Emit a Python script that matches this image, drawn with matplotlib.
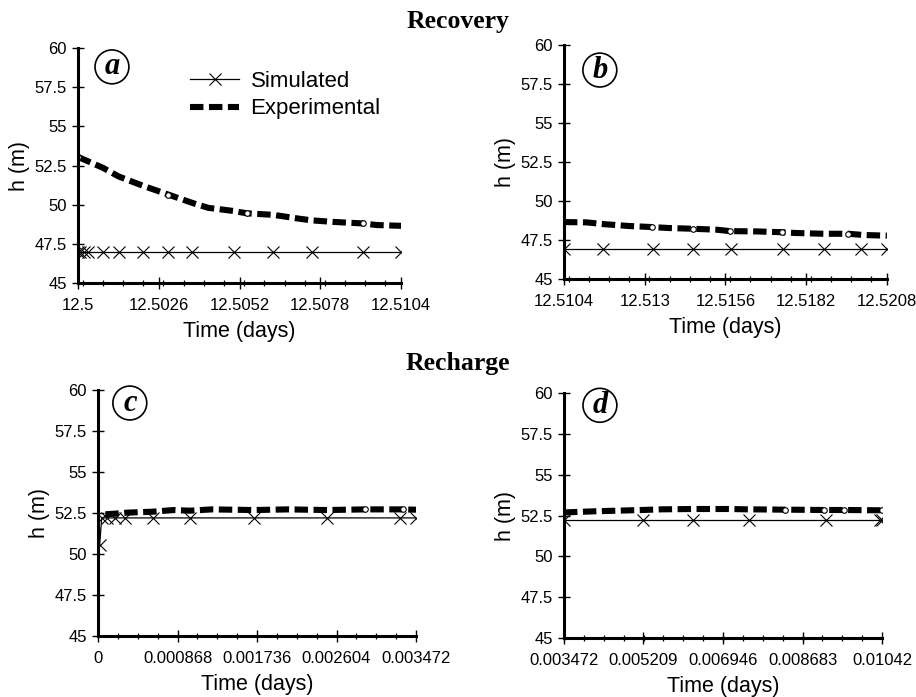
"""Drawdown recovery and recharge: simulated vs experimental head h(t)."""

import matplotlib.pyplot as plt
from matplotlib.ticker import FixedLocator, MultipleLocator

plt.rcParams["font.family"] = ["Liberation Sans", "DejaVu Sans"]

h_ticks = [45, 47.5, 50, 52.5, 55, 57.5, 60]
h_labels = ["45", "47.5", "50", "52.5", "55", "57.5", "60"]

# ---- (a) recovery, first window ----
a_exp_t = [12.5, 12.500806, 12.50131, 12.5021, 12.5029, 12.5037, 12.50419, 12.5050,
           12.50543, 12.50629, 12.50714, 12.50752, 12.50822, 12.50919, 12.50962, 12.5104]
a_exp_h = [53.05, 52.35, 51.8, 51.2, 50.65, 50.1, 49.8, 49.6,
           49.45, 49.35, 49.1, 49.0, 48.9, 48.8, 48.7, 48.65]
a_sim_t = [12.5, 12.50005, 12.50018, 12.50032, 12.5008, 12.50131, 12.5021, 12.5029,
           12.50368, 12.50502, 12.50629, 12.50752, 12.50919, 12.5104]
a_sim_h = [46.95] * len(a_sim_t)
a_ticks = [12.5, 12.5026, 12.5052, 12.5078, 12.5104]
a_labels = ["12.5", "12.5026", "12.5052", "12.5078", "12.5104"]

# ---- (b) recovery, second window ----
b_exp_t = [12.5104, 12.51113, 12.51167, 12.51247, 12.51323, 12.51376, 12.51457, 12.51532,
           12.51575, 12.51661, 12.51742, 12.51785, 12.51876, 12.51956, 12.52005, 12.5208]
b_exp_h = [48.65, 48.63, 48.52, 48.4, 48.33, 48.27, 48.22, 48.16,
           48.07, 48.05, 48.0, 47.95, 47.9, 47.9, 47.82, 47.78]
b_sim_t = [12.5104, 12.51167, 12.51326, 12.51457, 12.51577, 12.51745, 12.51876, 12.51996, 12.5208]
b_sim_h = [46.9] * len(b_sim_t)
b_ticks = [12.5104, 12.513, 12.5156, 12.5182, 12.5208]
b_labels = ["12.5104", "12.513", "12.5156", "12.5182", "12.5208"]

# ---- (c) recharge, first window ----
c_exp_t = [0.00008, 0.000189, 0.000316, 0.0006, 0.000825, 0.001, 0.00124,
           0.0017, 0.00208, 0.0025, 0.00292, 0.00333, 0.003472]
c_exp_h = [52.42, 52.46, 52.52, 52.58, 52.68, 52.64, 52.72,
           52.68, 52.72, 52.68, 52.72, 52.72, 52.7]
c_sim_t = [0.000018, 0.00004, 0.0001, 0.000189, 0.0003, 0.0006, 0.001,
           0.0017, 0.0025, 0.0033, 0.003472]
c_sim_h = [50.55, 52.2, 52.2, 52.2, 52.2, 52.2, 52.2, 52.2, 52.2, 52.2, 52.2]
c_ticks = [0, 0.000868, 0.001736, 0.002604, 0.003472]
c_labels = ["0", "0.000868", "0.001736", "0.002604", "0.003472"]

# ---- (d) recharge, second window ----
d_exp_t = [0.003472, 0.00415, 0.005188, 0.005611, 0.006301, 0.007066,
           0.007467, 0.008306, 0.009144, 0.009582, 0.01042]
d_exp_h = [52.69, 52.76, 52.84, 52.88, 52.9, 52.9,
           52.88, 52.86, 52.84, 52.84, 52.82]
d_sim_t = [0.003472, 0.005188, 0.006301, 0.007504, 0.009202, 0.010369, 0.01042]
d_sim_h = [52.2] * len(d_sim_t)
d_ticks = [0.003472, 0.005209, 0.006946, 0.008683, 0.01042]
d_labels = ["0.003472", "0.005209", "0.006946", "0.008683", "0.01042"]

# letter, axes rect, data..., indices carrying open circles, letter position
panels = [
    ("a", [0.0852, 0.594, 0.3526, 0.337], a_exp_t, a_exp_h, a_sim_t, a_sim_h,
     a_ticks, a_labels, [0, 4, 8, 13], (0.105, 0.92)),
    ("b", [0.6157, 0.5997, 0.3526, 0.3357], b_exp_t, b_exp_h, b_sim_t, b_sim_h,
     b_ticks, b_labels, [4, 6, 8, 10, 13], (0.111, 0.893)),
    ("c", [0.107, 0.0875, 0.3472, 0.353], c_exp_t, c_exp_h, c_sim_t, c_sim_h,
     c_ticks, c_labels, [10, 11], (0.10, 0.947)),
    ("d", [0.6157, 0.0846, 0.3472, 0.3515], d_exp_t, d_exp_h, d_sim_t, d_sim_h,
     d_ticks, d_labels, [7, 8, 9, 10], (0.113, 0.95)),
]

fig = plt.figure(figsize=(9.16, 6.97), dpi=100)

for letter, rect, et, eh, st, sh, ticks, labels, circ, lpos in panels:
    ax = fig.add_axes(rect)
    ax.plot(st, sh, color="black", lw=0.9, marker="x", ms=8, mew=0.8,
            label="Simulated")
    ax.plot(et, eh, color="black", lw=4.4, dashes=(2.2, 0.9),
            dash_capstyle="butt", label="Experimental")
    ax.plot([et[i] for i in circ], [eh[i] for i in circ], ls="none",
            marker="o", ms=4, mfc="white", mec="black", mew=0.8)

    ax.set_xlim(ticks[0], ticks[-1])
    ax.set_ylim(45, 60)
    ax.xaxis.set_major_locator(FixedLocator(ticks))
    ax.set_xticklabels(labels)
    ax.xaxis.set_minor_locator(MultipleLocator((ticks[1] - ticks[0]) / 4))
    ax.set_yticks(h_ticks)
    ax.set_yticklabels(h_labels)

    for side in ("top", "right"):
        ax.spines[side].set_visible(False)
    for side in ("left", "bottom"):
        ax.spines[side].set_linewidth(2.2)
    ax.tick_params(which="major", direction="inout", length=9, width=1,
                   labelsize=12, pad=6)
    ax.tick_params(axis="y", which="major", length=8, pad=4)
    ax.tick_params(which="minor", direction="inout", length=5, width=0.9)

    ax.set_xlabel("Time (days)", fontsize=15.5, labelpad=6)
    ax.set_ylabel("h (m)", fontsize=15.5, labelpad=3)

    ax.text(lpos[0], lpos[1], letter, transform=ax.transAxes, ha="center",
            va="center", fontsize=22, fontweight="bold", fontstyle="italic",
            family="Liberation Serif",
            bbox=dict(boxstyle="circle,pad=0.08", fc="white", ec="black", lw=1.2))

    if letter == "a":
        ax.legend(loc="upper left", bbox_to_anchor=(0.3, 0.97), frameon=False,
                  fontsize=16, handlelength=2.2, handletextpad=0.5,
                  labelspacing=0.3, borderpad=0.2)

fig.text(0.5, 0.969, "Recovery", ha="center", va="center", fontsize=18.5,
         fontweight="bold", family="Liberation Serif")
fig.text(0.5, 0.479, "Recharge", ha="center", va="center", fontsize=18.5,
         fontweight="bold", family="Liberation Serif")

fig.savefig("out.png", dpi=100)
